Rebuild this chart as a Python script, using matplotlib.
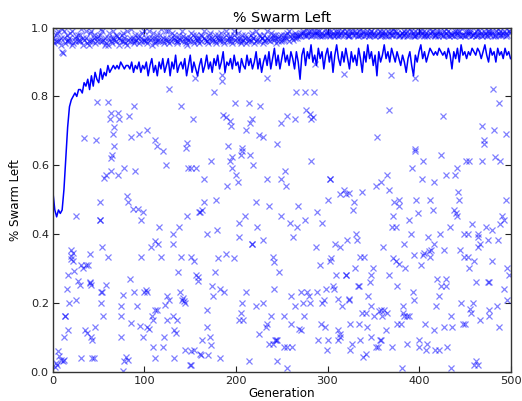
import numpy as np
import matplotlib
matplotlib.use("Agg")
import matplotlib.pyplot as plt

plt.rcParams['font.family'] = ['DejaVu Sans']

# ---- best-swarm line (every 2 generations, 0..500) ----
line_gen = np.arange(0, 501, 2)
line_val = [
    0.52, 0.47, 0.45, 0.47, 0.46, 0.47, 0.53, 0.62, 0.71, 0.77, 0.79,
    0.80, 0.81, 0.80, 0.82, 0.82, 0.81, 0.84, 0.83, 0.85, 0.82,
    0.86, 0.83, 0.87, 0.85, 0.84, 0.88, 0.85, 0.87, 0.86, 0.89,
    0.87, 0.88, 0.89, 0.88, 0.89, 0.88, 0.90, 0.89, 0.88, 0.89,
    0.89, 0.88, 0.90, 0.87, 0.89, 0.88, 0.90, 0.87, 0.89, 0.88,
    0.90, 0.86, 0.89, 0.91, 0.87, 0.89, 0.86, 0.90, 0.88, 0.91,
    0.87, 0.89, 0.91, 0.86, 0.90, 0.88, 0.92, 0.87, 0.89, 0.90,
    0.88, 0.91, 0.86, 0.89, 0.92, 0.87, 0.90, 0.88, 0.86, 0.89,
    0.91, 0.87, 0.89, 0.92, 0.88, 0.90, 0.87, 0.91, 0.89, 0.92,
    0.88, 0.90, 0.93, 0.87, 0.90, 0.89, 0.91, 0.88, 0.92, 0.89,
    0.90, 0.87, 0.91, 0.89, 0.88, 0.92, 0.89, 0.91, 0.88, 0.90,
    0.93, 0.88, 0.91, 0.87, 0.90, 0.92, 0.89, 0.93, 0.88, 0.91,
    0.94, 0.89, 0.92, 0.88, 0.91, 0.94, 0.90, 0.92, 0.89, 0.93,
    0.91, 0.88, 0.93, 0.90, 0.85, 0.92, 0.94, 0.89, 0.93, 0.91,
    0.95, 0.90, 0.92, 0.89, 0.94, 0.91, 0.93, 0.88, 0.92, 0.94,
    0.90, 0.93, 0.87, 0.92, 0.95, 0.91, 0.89, 0.93, 0.90, 0.94,
    0.91, 0.88, 0.93, 0.90, 0.92, 0.89, 0.94, 0.91, 0.87, 0.93,
    0.90, 0.95, 0.91, 0.93, 0.89, 0.92, 0.86, 0.93, 0.90, 0.92,
    0.95, 0.91, 0.93, 0.90, 0.94, 0.92, 0.90, 0.93, 0.91, 0.89,
    0.92, 0.90, 0.87, 0.91, 0.93, 0.89, 0.86, 0.92, 0.90, 0.93,
    0.95, 0.91, 0.93, 0.90, 0.92, 0.94, 0.93, 0.92, 0.93, 0.92,
    0.94, 0.93, 0.92, 0.93, 0.91, 0.94, 0.92, 0.88, 0.93, 0.91,
    0.94, 0.90, 0.95, 0.92, 0.93, 0.91, 0.93, 0.92, 0.94, 0.93,
    0.92, 0.94, 0.93, 0.91, 0.93, 0.95, 0.92, 0.90, 0.94, 0.92,
    0.93, 0.90, 0.94, 0.92, 0.93, 0.91, 0.94, 0.92, 0.93, 0.91,
]

# ---- dense band near the top: early generations ----
band_early_gen = np.arange(0, 270, 3)
band_early_gen_c = np.arange(1, 270, 3)
band_early_a = [
    0.97, 0.96, 0.99, 0.95, 0.97, 0.98, 0.96, 0.99, 0.97, 0.96,
    0.98, 0.95, 0.97, 0.96, 0.99, 0.97, 0.96, 0.98, 0.96, 0.97,
    0.95, 0.97, 0.99, 0.96, 0.97, 0.98, 0.96, 0.95, 0.97, 0.96,
    0.98, 0.97, 0.96, 0.99, 0.96, 0.97, 0.95, 0.97, 0.96, 0.98,
    0.96, 0.97, 0.99, 0.96, 0.97, 0.96, 0.98, 0.96, 0.97, 0.95,
    0.97, 0.96, 0.98, 0.97, 0.96, 0.99, 0.96, 0.97, 0.96, 0.98,
    0.97, 0.96, 0.97, 0.99, 0.96, 0.97, 0.98, 0.96, 0.97, 0.96,
    0.98, 0.97, 0.96, 0.97, 0.99, 0.96, 0.97, 0.98, 0.97, 0.96,
    0.97, 0.98, 0.97, 0.96, 0.98, 0.97, 0.99, 0.97, 0.98, 0.97,
]
band_early_b = [
    0.96, 0.98, 0.96, 0.97, 0.99, 0.96, 0.97, 0.95, 0.96, 0.98,
    0.96, 0.97, 0.99, 0.95, 0.96, 0.98, 0.97, 0.96, 0.99, 0.95,
    0.97, 0.96, 0.97, 0.98, 0.95, 0.96, 0.97, 0.99, 0.96, 0.97,
    0.96, 0.98, 0.97, 0.96, 0.97, 0.99, 0.97, 0.96, 0.98, 0.96,
    0.97, 0.99, 0.96, 0.97, 0.98, 0.96, 0.97, 0.99, 0.96, 0.97,
    0.96, 0.98, 0.97, 0.96, 0.98, 0.97, 0.96, 0.98, 0.97, 0.96,
    0.98, 0.97, 0.96, 0.98, 0.97, 0.96, 0.99, 0.97, 0.96, 0.98,
    0.97, 0.96, 0.98, 0.97, 0.96, 0.98, 0.97, 0.96, 0.99, 0.97,
    0.98, 0.97, 0.96, 0.98, 0.97, 0.98, 0.96, 0.98, 0.97, 0.98,
]
band_early_c = [
    0.955, 0.985, 0.965, 0.995, 0.955, 0.965, 0.985, 0.955, 0.975, 0.965,
    0.995, 0.965, 0.955, 0.985, 0.965, 0.955, 0.975, 0.995, 0.965, 0.955,
    0.985, 0.955, 0.965, 0.975, 0.965, 0.985, 0.955, 0.965, 0.995, 0.955,
    0.965, 0.955, 0.985, 0.965, 0.955, 0.965, 0.985, 0.955, 0.965, 0.995,
    0.955, 0.965, 0.955, 0.985, 0.965, 0.955, 0.965, 0.975, 0.955, 0.965,
    0.985, 0.955, 0.965, 0.955, 0.975, 0.965, 0.955, 0.985, 0.965, 0.955,
    0.965, 0.985, 0.955, 0.965, 0.975, 0.955, 0.965, 0.985, 0.955, 0.965,
    0.955, 0.965, 0.985, 0.955, 0.965, 0.975, 0.955, 0.965, 0.965, 0.985,
    0.965, 0.955, 0.975, 0.965, 0.965, 0.985, 0.975, 0.965, 0.985, 0.975,
]
# ---- dense band: later generations ----
band_late_gen = np.arange(270, 501, 3)
band_late_gen_c = np.arange(271, 501, 3)
band_late_a = [
    0.98, 0.99, 0.98, 0.985, 0.99, 0.98, 0.98, 0.99, 0.985, 0.98,
    0.99, 0.98, 0.985, 0.98, 0.99, 0.98, 0.98, 0.99, 0.98, 0.985,
    0.99, 0.98, 0.98, 0.99, 0.985, 0.98, 0.99, 0.98, 0.98, 0.99,
    0.98, 0.985, 0.99, 0.98, 0.98, 0.99, 0.98, 0.985, 0.98, 0.99,
    0.98, 0.98, 0.99, 0.985, 0.98, 0.99, 0.98, 0.98, 0.99, 0.98,
    0.985, 0.99, 0.98, 0.98, 0.99, 0.98, 0.985, 0.98, 0.99, 0.98,
    0.98, 0.99, 0.985, 0.98, 0.99, 0.98, 0.98, 0.99, 0.98, 0.985,
    0.99, 0.98, 0.98, 0.99, 0.98, 0.985, 0.99,
]
band_late_b = [
    0.975, 0.985, 0.995, 0.98, 0.975, 0.99, 0.985, 0.98, 0.975, 0.995,
    0.985, 0.975, 0.98, 0.99, 0.975, 0.985, 0.995, 0.98, 0.975, 0.99,
    0.98, 0.975, 0.995, 0.985, 0.98, 0.975, 0.99, 0.985, 0.995, 0.975,
    0.985, 0.98, 0.975, 0.99, 0.995, 0.98, 0.975, 0.985, 0.99, 0.975,
    0.995, 0.985, 0.975, 0.98, 0.99, 0.975, 0.985, 0.995, 0.98, 0.975,
    0.99, 0.985, 0.975, 0.995, 0.98, 0.985, 0.975, 0.99, 0.98, 0.995,
    0.975, 0.985, 0.99, 0.98, 0.975, 0.995, 0.985, 0.98, 0.975, 0.99,
    0.985, 0.975, 0.995, 0.98, 0.985, 0.975, 0.99,
]
band_late_c = [
    0.985, 0.98, 0.975, 0.99, 0.98, 0.985, 0.99, 0.975, 0.98, 0.985,
    0.98, 0.99, 0.975, 0.985, 0.98, 0.99, 0.985, 0.975, 0.99, 0.98,
    0.985, 0.99, 0.98, 0.975, 0.99, 0.985, 0.98, 0.975, 0.985, 0.98,
    0.99, 0.975, 0.985, 0.98, 0.99, 0.985, 0.98, 0.975, 0.985, 0.98,
    0.99, 0.975, 0.98, 0.99, 0.985, 0.98, 0.975, 0.985, 0.99, 0.98,
    0.975, 0.98, 0.99, 0.985, 0.975, 0.98, 0.99, 0.985, 0.975, 0.98,
    0.99, 0.98, 0.975, 0.985, 0.98, 0.99, 0.975, 0.985, 0.99, 0.98,
    0.975, 0.99, 0.985, 0.98, 0.99, 0.98, 0.985,
]

# ---- scattered swarms (generation, value) ----
scatter_gen = [
    11, 10, 48, 60, 63, 71, 62, 72, 67, 89, 83, 66, 34, 47, 85, 94, 103, 111, 127, 140, 153, 155, 147, 114, 67,
    185, 185, 234, 176, 266, 275, 285, 286, 318, 199, 214, 226, 186, 189, 193, 195, 217, 215, 211, 225, 229,
    249, 256, 265, 277, 281, 284, 282, 245, 191, 207,
    369, 396, 481, 487, 367, 426, 469, 482, 495, 354, 471, 471, 396,
    64, 63, 120, 145, 123, 148, 156, 78, 90, 63, 58, 56, 71, 81, 82, 51, 87, 93, 98, 96, 25, 51, 51, 147, 160,
    116, 138, 131, 107, 111, 115, 131, 54, 20, 22, 20, 40, 60, 96, 118, 140, 151,
    207, 205, 215, 196, 193, 173, 219, 196, 151, 200, 202, 165, 190, 254, 249, 255, 234, 282, 303, 303, 318,
    314, 320, 301, 165, 178, 163, 161, 222, 236, 268, 289, 210, 203, 223, 249, 259, 267, 275, 294, 168, 179,
    203, 229, 218, 218, 262, 287, 308, 314, 321, 189, 180, 198, 240, 304,
    396, 424, 404, 483, 489, 451, 455, 469, 392, 441, 439, 430, 365, 359, 353, 367, 403, 416, 324, 338, 443,
    444, 329, 328, 373, 378, 378, 397, 412, 415, 399, 495, 438, 440, 442, 372, 389, 491, 493, 489, 371, 375,
    434, 458, 473, 480, 331, 332, 391, 423, 449, 453, 464, 465, 475, 467, 464, 410, 416, 413, 406, 384, 361,
    486, 427, 445, 394, 404, 336, 340, 449, 453, 372,
    22, 20, 154, 31, 36, 33, 38, 16, 23, 137, 156, 158, 27, 29, 40, 40, 42, 58, 54, 52, 84, 15, 102, 103,
    100, 89, 76, 139, 141, 144, 143, 142, 25, 18, 52, 74, 92, 125, 127, 122, 114, 111, 108, 109, 55, 74, 125,
    131, 136, 13, 13, 85, 95, 103, 105, 16, 35, 37, 46, 132, 134, 42, 43, 12, 74, 98, 121, 109, 120, 154,
    144, 161, 80, 82, 78, 31, 43, 45, 112, 132, 150, 77, 5, 7, 9, 11, 3, 4, 12, 2,
    159, 177, 174, 175, 182, 187, 168, 168, 163, 172, 173, 151, 162, 169, 183, 151,
    242, 247, 241, 211, 207, 205, 203, 208, 222, 229, 238, 234, 233, 225, 243, 244, 236, 240, 245, 256,
    261, 252, 253, 260, 214, 245, 256, 260, 271, 280, 278, 264, 273, 281, 274, 269, 271, 288, 292, 303,
    296, 294, 298, 306, 309, 307, 311, 316, 320, 324, 293, 297, 312, 311, 314, 290, 300, 299,
    412, 411, 460, 455, 375, 378, 385, 402, 480, 330, 320, 350, 347, 346, 367, 376, 333, 334, 344, 324,
    393, 394, 420, 430, 424, 430, 422, 419, 462, 475, 477, 496, 498, 493, 496, 446, 459, 456, 457, 476,
    476, 485, 467, 487, 325, 334, 342, 338, 343, 347, 351, 356, 358, 362, 360, 364, 365, 376, 380, 382,
    384, 387, 389, 382, 407, 416, 427, 436, 435, 448, 450, 314, 327, 336, 325, 347, 353, 355, 357, 359,
    371, 387, 400, 400, 409, 408, 418, 422, 431, 342, 339, 381, 435, 462, 464, 460,
]
scatter_val = [
    0.926, 0.93, 0.783, 0.783, 0.752, 0.752, 0.735, 0.735, 0.711, 0.771, 0.742, 0.692, 0.679, 0.674, 0.682,
    0.692, 0.703, 0.672, 0.822, 0.771, 0.735, 0.853, 0.665, 0.655, 0.655,
    0.863, 0.844, 0.853, 0.812, 0.812, 0.812, 0.812, 0.894, 0.865, 0.781, 0.781, 0.771, 0.745, 0.740, 0.728,
    0.713, 0.735, 0.723, 0.703, 0.689, 0.682, 0.723, 0.742, 0.733, 0.762, 0.750, 0.740, 0.733, 0.663, 0.655,
    0.650,
    0.863, 0.853, 0.823, 0.781, 0.762, 0.742, 0.713, 0.703, 0.692, 0.682, 0.672, 0.663, 0.647,
    0.631, 0.621, 0.640, 0.650, 0.602, 0.592, 0.592, 0.592, 0.582, 0.582, 0.573, 0.563, 0.573, 0.510, 0.493,
    0.493, 0.473, 0.473, 0.463, 0.442, 0.452, 0.442, 0.442, 0.452, 0.463,
    0.420, 0.420, 0.401, 0.363, 0.379, 0.372, 0.372, 0.363, 0.355, 0.345, 0.335, 0.343, 0.333, 0.333, 0.333,
    0.333, 0.333,
    0.640, 0.631, 0.631, 0.624, 0.611, 0.611, 0.602, 0.592, 0.592, 0.573, 0.550, 0.560, 0.541, 0.582, 0.561,
    0.541, 0.561, 0.611, 0.561, 0.561, 0.529,
    0.515, 0.515, 0.500, 0.492, 0.500, 0.471, 0.463, 0.492, 0.483, 0.483, 0.463, 0.452, 0.432, 0.420, 0.452,
    0.432, 0.420, 0.442, 0.432, 0.401, 0.411,
    0.391, 0.382, 0.372, 0.372, 0.391, 0.362, 0.372, 0.362, 0.382, 0.343, 0.330, 0.330, 0.333, 0.330,
    0.640, 0.631, 0.611, 0.624, 0.611, 0.611, 0.611, 0.611, 0.592, 0.592, 0.573, 0.573, 0.573, 0.550, 0.541,
    0.529, 0.561, 0.550, 0.520, 0.522, 0.522,
    0.500, 0.492, 0.471, 0.492, 0.500, 0.481, 0.500, 0.500, 0.471, 0.461, 0.500, 0.471, 0.461, 0.452, 0.452,
    0.442, 0.452, 0.442, 0.430, 0.420, 0.420,
    0.420, 0.430, 0.420, 0.411, 0.401, 0.382, 0.401, 0.401, 0.401, 0.401, 0.401, 0.391, 0.382, 0.372, 0.362,
    0.391, 0.372, 0.355, 0.345, 0.372, 0.362,
    0.382, 0.353, 0.353, 0.340, 0.340, 0.333, 0.333, 0.333, 0.333, 0.330,
    0.321, 0.328, 0.321, 0.311, 0.311, 0.301, 0.311, 0.282, 0.292, 0.289, 0.282, 0.263, 0.263, 0.253, 0.262,
    0.258, 0.253, 0.253, 0.231, 0.231, 0.269, 0.240, 0.236, 0.231,
    0.231, 0.231, 0.222, 0.231, 0.209, 0.199, 0.206, 0.215, 0.209, 0.201, 0.201, 0.192, 0.190, 0.221, 0.209,
    0.195, 0.180, 0.180, 0.161, 0.151, 0.161, 0.161, 0.151,
    0.161, 0.151, 0.161, 0.161, 0.141, 0.132, 0.130, 0.124, 0.122, 0.122, 0.112, 0.130, 0.122, 0.112, 0.101,
    0.093, 0.101, 0.101, 0.101, 0.101, 0.072, 0.072, 0.062,
    0.062, 0.052, 0.043, 0.035, 0.030, 0.040, 0.040, 0.040, 0.040, 0.040, 0.020, 0.001, 0.059, 0.047, 0.035,
    0.030, 0.025, 0.020, 0.035, 0.015,
    0.275, 0.289, 0.250, 0.221, 0.240, 0.231, 0.180, 0.130, 0.091, 0.101, 0.078, 0.059, 0.049, 0.049, 0.040,
    0.020,
    0.318, 0.289, 0.240, 0.231, 0.199, 0.170, 0.151, 0.149, 0.190, 0.201, 0.161, 0.140, 0.130, 0.110, 0.091,
    0.091, 0.081, 0.081, 0.091, 0.072,
    0.072, 0.072, 0.161, 0.140, 0.030, 0.030, 0.011, 0.221, 0.231, 0.221, 0.231, 0.192, 0.199, 0.199, 0.161,
    0.124, 0.120, 0.231, 0.311, 0.321,
    0.209, 0.199, 0.240, 0.250, 0.282, 0.240, 0.211, 0.190, 0.282, 0.209, 0.140, 0.130, 0.120, 0.093, 0.101,
    0.091, 0.091, 0.062,
    0.333, 0.350, 0.321, 0.301, 0.321, 0.314, 0.301, 0.311, 0.321, 0.301, 0.282, 0.301, 0.282, 0.260, 0.282,
    0.250, 0.250, 0.250, 0.221, 0.211,
    0.231, 0.209, 0.269, 0.269, 0.250, 0.250, 0.221, 0.192, 0.260, 0.260, 0.260, 0.301, 0.282, 0.240, 0.209,
    0.201, 0.201, 0.182, 0.170, 0.180,
    0.161, 0.192, 0.151, 0.130, 0.140, 0.140, 0.170, 0.170, 0.130, 0.192, 0.161, 0.176, 0.180, 0.180, 0.161,
    0.122, 0.170, 0.140, 0.140, 0.170,
    0.161, 0.161, 0.161, 0.192, 0.140, 0.122, 0.130, 0.130, 0.161, 0.140, 0.140, 0.110, 0.081, 0.091, 0.062,
    0.101, 0.072, 0.072, 0.091, 0.091,
    0.072, 0.081, 0.091, 0.072, 0.081, 0.062, 0.062, 0.062, 0.072, 0.052, 0.043, 0.011, 0.011, 0.030, 0.020,
    0.020,
]

x_ticks = [0, 100, 200, 300, 400, 500]
y_ticks = [0.0, 0.2, 0.4, 0.6, 0.8, 1.0]

fig = plt.figure(figsize=(5.22, 4.01), dpi=100)
fig.patch.set_facecolor('white')
ax = fig.add_axes([0.1015, 0.0731, 0.8765, 0.858])

mk = dict(linestyle='none', marker='x', color='blue', alpha=0.5, markersize=4.8, markeredgewidth=0.9)
ax.plot(band_early_gen, band_early_a, **mk)
ax.plot(band_early_gen, band_early_b, **mk)
ax.plot(band_early_gen_c, band_early_c, **mk)
ax.plot(band_late_gen, band_late_a, **mk)
ax.plot(band_late_gen, band_late_b, **mk)
ax.plot(band_late_gen_c, band_late_c, **mk)
ax.plot(scatter_gen, scatter_val, **mk)
ax.plot(line_gen, line_val, color='blue', linewidth=1.1)

ax.set_xlim(0, 500)
ax.set_ylim(0, 1.0)
ax.set_xticks(x_ticks)
ax.set_yticks(y_ticks)
ax.set_xticklabels([str(v) for v in x_ticks])
ax.set_yticklabels([f"{v:.1f}" for v in y_ticks])
ax.tick_params(direction='in', top=True, right=True, length=4, width=0.8,
               labelsize=8.2, pad=3, colors='#222222')
for s in ax.spines.values():
    s.set_linewidth(1.0)
    s.set_color('#333333')

ax.set_title('% Swarm Left', fontsize=10.3, pad=4)
ax.set_xlabel('Generation', fontsize=8.6, labelpad=1)
ax.set_ylabel('% Swarm Left', fontsize=8.6, labelpad=6)

fig.savefig('out.png', dpi=100, facecolor='white')
